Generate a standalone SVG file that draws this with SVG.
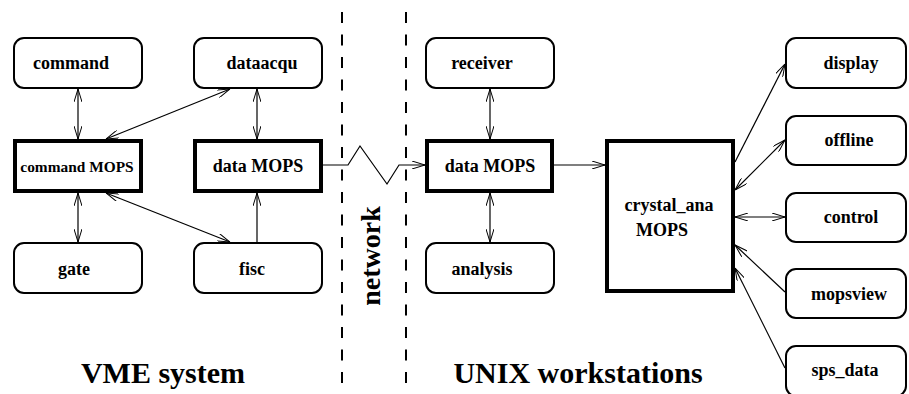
<svg xmlns="http://www.w3.org/2000/svg" width="909" height="394" viewBox="0 0 909 394">
<defs>
<style>
.rb{fill:#fff;stroke:#000;stroke-width:2}
.tb{fill:#fff;stroke:#000;stroke-width:4}
.lbl{font-family:"Liberation Serif","Times New Roman",serif;font-weight:bold;font-size:18px;text-anchor:middle;fill:#000}
.big{font-family:"Liberation Serif","Times New Roman",serif;font-weight:bold;font-size:30px;text-anchor:middle;fill:#000}
.c{fill:none;stroke:#000;stroke-width:1.2}
.bi{marker-start:url(#ah);marker-end:url(#ah)}
.one{marker-end:url(#ah)}
.dash{stroke:#000;stroke-width:2;stroke-dasharray:11 11.5;fill:none}
</style>
<marker id="ah" viewBox="0 0 13 8" refX="13" refY="4" markerWidth="13" markerHeight="8" markerUnits="userSpaceOnUse" orient="auto-start-reverse">
<path d="M0,0 L13,4 L0,8" fill="none" stroke="#000" stroke-width="1"/>
</marker>
</defs>
<rect width="909" height="394" fill="#fff"/>
<g id="separators">
<line class="dash" x1="342" y1="12" x2="342" y2="394"/>
<line class="dash" x1="406" y1="12" x2="406" y2="394"/>
</g>
<g id="connectors">
<path class="c bi" d="M78,89 L78,139"/>
<path class="c bi" d="M230,89 L106,139"/>
<path class="c bi" d="M257,89 L257,139"/>
<path class="c bi" d="M78,193 L78,242"/>
<path class="c bi" d="M106,193 L230,242"/>
<path class="c one" d="M257,242 L257,193"/>
<path class="c one" d="M323,165 L348,165 L360,146 L387,184 L399,165 L425,165"/>
<path class="c bi" d="M490,89 L490,139"/>
<path class="c bi" d="M490,193 L490,242"/>
<path class="c one" d="M554,165 L605,165"/>
<path class="c one" d="M735,162 L785,64"/>
<path class="c bi" d="M735,190 L785,140"/>
<path class="c bi" d="M735,217 L785,217"/>
<path class="c one" d="M785,292 L735,245"/>
<path class="c one" d="M785,368 L735,268"/>
</g>
<g id="command"><rect class="rb" x="14" y="38" width="128" height="50" rx="10"/><text class="lbl" x="71" y="69">command</text></g>
<g id="dataacqu"><rect class="rb" x="194" y="38" width="128" height="50" rx="10"/><text class="lbl" x="262" y="69">dataacqu</text></g>
<g id="command_mops"><rect class="tb" x="15" y="141" width="126" height="50"/><text class="lbl" x="77" y="172" style="font-size:15.4px">command MOPS</text></g>
<g id="data_mops_vme"><rect class="tb" x="195" y="141" width="126" height="50"/><text class="lbl" x="258" y="172">data MOPS</text></g>
<g id="gate"><rect class="rb" x="14" y="243" width="128" height="50" rx="10"/><text class="lbl" x="74" y="275">gate</text></g>
<g id="fisc"><rect class="rb" x="194" y="243" width="128" height="50" rx="10"/><text class="lbl" x="252" y="275">fisc</text></g>
<g id="receiver"><rect class="rb" x="426" y="38" width="128" height="50" rx="10"/><text class="lbl" x="482" y="69">receiver</text></g>
<g id="data_mops_unix"><rect class="tb" x="427" y="141" width="125" height="50"/><text class="lbl" x="490" y="172">data MOPS</text></g>
<g id="analysis"><rect class="rb" x="426" y="243" width="128" height="50" rx="10"/><text class="lbl" x="482" y="275">analysis</text></g>
<g id="crystal_ana"><rect class="tb" x="607" y="141" width="126" height="150"/><text class="lbl" x="669" y="211">crystal_ana</text><text class="lbl" x="662" y="236">MOPS</text></g>
<g id="display"><rect class="rb" x="786" y="38" width="120" height="50" rx="10"/><text class="lbl" x="851" y="69">display</text></g>
<g id="offline"><rect class="rb" x="786" y="116" width="120" height="49" rx="10"/><text class="lbl" x="849" y="146">offline</text></g>
<g id="control"><rect class="rb" x="786" y="193" width="120" height="49" rx="10"/><text class="lbl" x="851" y="223">control</text></g>
<g id="mopsview"><rect class="rb" x="786" y="269" width="120" height="49" rx="10"/><text class="lbl" x="849" y="300">mopsview</text></g>
<g id="sps_data"><rect class="rb" x="786" y="346" width="120" height="50" rx="10"/><text class="lbl" x="845" y="376">sps_data</text></g>
<g id="labels">
<text class="big" x="163" y="383">VME system</text>
<text class="big" x="578" y="383">UNIX workstations</text>
<text class="big" transform="translate(380,256) rotate(-90)" style="font-size:28px">network</text>
</g>
</svg>
